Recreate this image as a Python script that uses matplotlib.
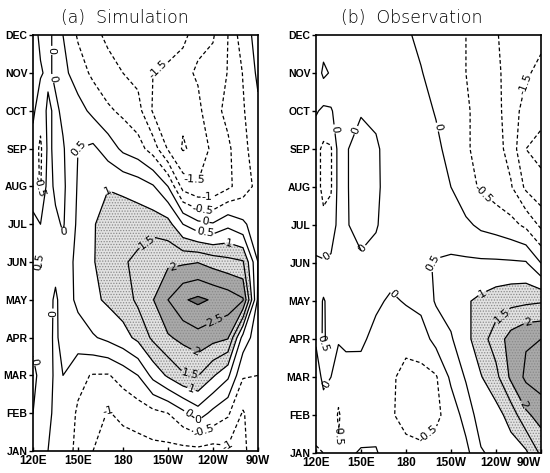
import numpy as np
import matplotlib.pyplot as plt

plt.rcParams['hatch.color'] = '#8a8a8a'
plt.rcParams['hatch.linewidth'] = 0.6

months = ['JAN', 'FEB', 'MAR', 'APR', 'MAY', 'JUN', 'JUL', 'AUG', 'SEP', 'OCT', 'NOV', 'DEC']
lons = [120, 125, 130, 135, 140, 150, 160, 170, 180, 190, 200, 210, 220, 230, 240, 250, 260, 270]
lon_ticks = [120, 150, 180, 210, 240, 270]
lon_labels = ['120E', '150E', '180', '150W', '120W', '90W']

# (a) simulation, one row per month, columns follow lons
sim_jan = [0.1, 0.1, 0.0, -0.1, -0.3, -0.6, -1.0, -1.2, -1.2, -1.2, -1.15, -1.15, -1.15, -1.15, -1.2, -1.1, -1.1, -0.7]
sim_feb = [0.0, 0.2, 0.1, -0.1, -0.25, -0.55, -0.77, -1.03, -0.9, -0.78, -0.64, -0.5, -0.13, 0.27, -0.14, -0.43, -1.05, -0.6]
sim_mar = [-0.1, 0.1, 0.2, -0.1, 0.0, -0.4, -0.53, -0.54, -0.29, 0.0, 0.65, 1.08, 1.44, 1.52, 1.06, 0.6, -0.45, -0.5]
sim_apr = [0.1, 0.2, 0.15, -0.1, 0.2, 0.3, 0.45, 0.62, 0.82, 1.12, 1.6, 1.94, 2.13, 2.32, 2.17, 2.05, 0.3, -0.3]
sim_may = [0.2, 0.3, 0.2, -0.1, 0.25, 0.6, 0.9, 1.08, 1.25, 1.6, 1.98, 2.5, 2.95, 3.1, 2.95, 2.8, 2.55, -0.1]
sim_jun = [0.3, 0.55, 0.3, 0.2, 0.2, 0.65, 0.95, 1.35, 1.45, 1.6, 1.95, 1.9, 1.92, 1.98, 1.8, 1.65, 1.55, 0.0]
sim_jul = [0.1, 0.0, 0.2, 0.1, -0.05, 0.6, 0.95, 1.25, 1.3, 1.3, 1.27, 1.19, 0.5, 0.14, 0.05, 0.37, 0.1, -0.3]
sim_aug = [-0.2, -0.55, 0.2, -0.1, -0.1, 0.55, 0.95, 0.97, 0.89, 0.76, 0.55, 0.0, -1.2, -1.45, -1.4, -1.1, -0.75, -0.35]
sim_sep = [-0.2, -0.6, 0.1, -0.1, -0.05, 0.5, 0.6, 0.27, -0.11, -0.3, -0.73, -1.55, -2.05, -1.85, -1.37, -1.1, -0.6, -0.3]
sim_oct = [0.1, -0.3, 0.1, -0.1, 0.1, 0.2, -0.13, -0.42, -0.6, -0.82, -1.55, -1.8, -1.9, -1.6, -1.2, -0.85, -0.55, -0.1]
sim_nov = [0.2, 0.05, -0.1, 0.1, 0.15, -0.26, -0.6, -0.82, -1.0, -1.15, -1.5, -1.52, -1.6, -1.45, -1.3, -0.98, -0.48, 0.1]
sim_dec = [0.2, -0.1, -0.1, 0.1, 0.0, -0.56, -0.86, -1.1, -1.2, -1.3, -1.35, -1.45, -1.45, -1.6, -1.55, -1.0, -0.2, 0.15]

# (b) observation
obs_jan = [-0.55, -0.5, -0.4, -0.45, -0.1, 0.05, 0.05, -0.3, -0.35, -0.4, -0.3, -0.2, -0.15, 0.45, 0.63, 0.75, 0.9, 1.6]
obs_feb = [-0.3, -0.2, -0.2, -0.55, -0.3, -0.3, -0.25, -0.45, -0.65, -0.7, -0.6, -0.3, 0.2, 0.75, 0.8, 1.2, 1.9, 2.2]
obs_mar = [-0.2, 0.1, 0.0, -0.3, -0.2, -0.25, -0.3, -0.45, -0.6, -0.65, -0.55, 0.1, 0.55, 0.97, 1.35, 2.1, 2.6, 2.75]
obs_apr = [0.05, 0.6, 0.2, 0.05, 0.1, 0.12, -0.2, -0.35, -0.4, -0.25, 0.17, 0.45, 0.85, 1.3, 1.73, 2.2, 2.45, 2.5]
obs_may = [0.2, 0.55, 0.3, 0.3, 0.3, 0.3, 0.12, -0.1, 0.05, 0.15, 0.55, 0.7, 0.95, 1.1, 1.25, 1.35, 1.4, 1.45]
obs_jun = [0.05, 0.05, 0.1, 0.2, 0.2, 0.1, 0.2, 0.3, 0.4, 0.45, 0.52, 0.56, 0.58, 0.58, 0.58, 0.57, 0.55, 0.0]
obs_jul = [-0.2, -0.4, -0.3, 0.15, 0.05, -0.2, -0.05, 0.3, 0.35, 0.4, 0.35, 0.3, 0.1, -0.1, -0.2, -0.35, -0.6, -1.1]
obs_aug = [-0.35, -0.6, -0.55, 0.15, 0.05, -0.25, -0.12, 0.3, 0.35, 0.35, 0.2, 0.0, -0.35, -0.55, -0.75, -0.95, -1.6, -1.9]
obs_sep = [-0.35, -0.6, -0.55, 0.15, 0.05, -0.25, -0.1, 0.3, 0.35, 0.3, 0.1, -0.15, -0.45, -0.63, -0.8, -1.2, -2.0, -2.1]
obs_oct = [0.05, -0.1, -0.05, 0.2, 0.1, 0.05, 0.15, 0.3, 0.25, 0.15, -0.03, -0.23, -0.45, -0.63, -0.85, -1.25, -1.7, -1.9]
obs_nov = [0.2, 0.6, 0.45, 0.2, 0.2, 0.2, 0.25, 0.3, 0.15, 0.02, -0.14, -0.3, -0.5, -0.7, -0.9, -1.2, -1.45, -1.6]
obs_dec = [0.2, 0.25, 0.2, 0.1, 0.2, 0.2, 0.2, 0.25, 0.05, -0.08, -0.22, -0.36, -0.5, -0.75, -0.97, -1.15, -1.35, -1.4]

sim = np.array([sim_jan, sim_feb, sim_mar, sim_apr, sim_may, sim_jun,
                sim_jul, sim_aug, sim_sep, sim_oct, sim_nov, sim_dec])
obs = np.array([obs_jan, obs_feb, obs_mar, obs_apr, obs_may, obs_jun,
                obs_jul, obs_aug, obs_sep, obs_oct, obs_nov, obs_dec])

# where the contour labels sit (lon, month index)
sim_label_pos = [(130, 10.6), (134.7, 9.87), (202.7, 10.16), (148, 8.3), (124.7, 7.0),
                 (161.3, 7.17), (226.7, 7.1), (236, 6.83), (233, 6.38), (234.7, 6.06),
                 (234.7, 5.77), (251, 5.53), (193.3, 5.66), (138, 5.77), (124.7, 5.0),
                 (213.3, 4.87), (133.3, 3.65), (241.3, 3.47), (229.3, 2.72), (124.7, 2.4),
                 (224.7, 2.0), (224.7, 1.53), (224.7, 1.08), (169.3, 1.08), (229.3, 0.74),
                 (236, 0.37), (251.3, 0.1)]
obs_label_pos = [(126, 8.5), (141.3, 8.58), (201.3, 8.58), (257.3, 9.74), (228, 6.66),
                 (127.3, 5.13), (154.7, 5.26), (198, 5.0), (174, 4.29), (231.3, 4.16),
                 (244, 3.63), (261.3, 3.42), (124.7, 2.9), (126, 1.84), (261.3, 1.34),
                 (197.3, 0.39), (134, 0.13)]

tick_font = ['Liberation Sans Narrow', 'DejaVu Sans Condensed', 'Liberation Sans']


def draw(ax, field, label_pos, title, title_x, last_right=False):
    X = np.array(lons)
    Y = np.arange(12)
    ax.contourf(X, Y, field, levels=[1, 2, 3, 10],
                colors=['#e2e2e2', '#a9a9a9', '#707070'],
                hatches=['......', '......', None])
    levels = np.arange(-2, 3.01, 0.5)
    styles = [(0, (3, 2)) if l < 0 else 'solid' for l in levels]
    cs = ax.contour(X, Y, field, levels=levels, colors='k',
                    linewidths=0.9, linestyles=styles)
    ax.clabel(cs, fmt=lambda v: f'{v:g}', fontsize=8, manual=label_pos,
              inline_spacing=1)
    ax.set_xlim(120, 270)
    ax.set_ylim(0, 11)
    ax.set_xticks(lon_ticks)
    ax.set_xticklabels(lon_labels)
    ax.set_yticks(range(12))
    ax.set_yticklabels(months)
    ax.tick_params(axis='y', direction='out', length=3, width=1, pad=1)
    ax.tick_params(axis='x', direction='in', length=3, width=1, pad=3)
    for t in ax.get_xticklabels():
        t.set_fontfamily(tick_font)
        t.set_fontweight('bold')
        t.set_fontstretch('condensed')
        t.set_fontsize(8.5)
    if last_right:
        ax.get_xticklabels()[-1].set_horizontalalignment('right')
    for t in ax.get_yticklabels():
        t.set_fontfamily(tick_font)
        t.set_fontweight('bold')
        t.set_fontstretch('condensed')
        t.set_fontsize(7.5)
    for s in ax.spines.values():
        s.set_linewidth(1.2)
    fig.text(title_x, 0.963, title, ha='center', va='center', fontsize=12.5,
             family='DejaVu Sans', weight='light')


fig = plt.figure(figsize=(5.5, 4.73), dpi=100)
ax1 = fig.add_axes([0.06, 0.0465, 0.409, 0.879])
ax2 = fig.add_axes([0.5745, 0.042, 0.409, 0.884])

draw(ax1, sim, sim_label_pos, '(a)  Simulation', 125 / 550)
draw(ax2, obs, obs_label_pos, '(b)  Observation', 412 / 550, last_right=True)

fig.savefig('out.png', dpi=100)
